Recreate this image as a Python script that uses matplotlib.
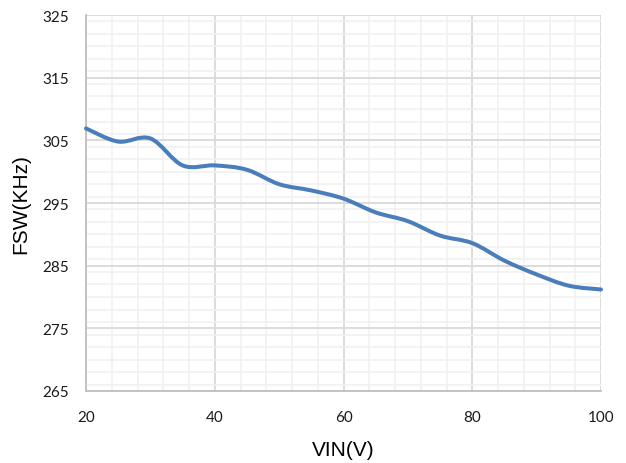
import numpy as np
import matplotlib
matplotlib.use("Agg")
import matplotlib.pyplot as plt
from matplotlib.path import Path
from matplotlib.patches import PathPatch
from matplotlib.ticker import MultipleLocator

# datos
vin = [20, 25, 30, 35, 40, 45, 50, 55, 60, 65, 70, 75, 80, 85, 90, 95, 100]
fsw = [306.9, 304.8, 305.3, 301.0, 301.0, 300.3, 298.0, 297.0, 295.7,
       293.5, 292.1, 289.8, 288.6, 285.8, 283.6, 281.8, 281.2]

x_ticks = [20, 40, 60, 80, 100]
y_ticks = [265, 275, 285, 295, 305, 315, 325]


def curva_suave(xs, ys):
    # linea suavizada estilo Excel (Bezier cubica tipo Catmull-Rom)
    pts = np.column_stack([xs, ys]).astype(float)
    n = len(pts)
    verts = [pts[0]]
    codes = [Path.MOVETO]
    for i in range(n - 1):
        p0 = pts[max(i - 1, 0)]
        p1 = pts[i]
        p2 = pts[i + 1]
        p3 = pts[min(i + 2, n - 1)]
        c1 = p1 + (p2 - p0) / 6.0
        c2 = p2 - (p3 - p1) / 6.0
        verts += [c1, c2, p2]
        codes += [Path.CURVE4] * 3
    return Path(verts, codes)


fig = plt.figure(figsize=(6.26, 4.64), dpi=100)
ax = fig.add_axes([86 / 626, 1 - 392 / 464, 515 / 626, 376 / 464])

ax.set_xlim(20, 100)
ax.set_ylim(265, 325)

ax.xaxis.set_major_locator(MultipleLocator(20))
ax.xaxis.set_minor_locator(MultipleLocator(4))
ax.yaxis.set_major_locator(MultipleLocator(10))
ax.yaxis.set_minor_locator(MultipleLocator(2))
ax.set_xticks(x_ticks)
ax.set_yticks(y_ticks)

ax.grid(which='minor', color='#f0f0f0', linewidth=1.1)
ax.grid(which='major', color='#d9d9d9', linewidth=1.3)
ax.set_axisbelow(True)

for lado in ['top', 'right']:
    ax.spines[lado].set_visible(False)
for lado in ['left', 'bottom']:
    ax.spines[lado].set_color('#bfbfbf')
    ax.spines[lado].set_linewidth(1.3)

ax.tick_params(which='both', length=0)
ax.tick_params(axis='x', pad=14)
ax.tick_params(axis='y', pad=12)
for lbl in ax.get_xticklabels() + ax.get_yticklabels():
    lbl.set_fontfamily('Lato')
    lbl.set_fontsize(11)
    lbl.set_color('#1a1a1a')

patch = PathPatch(curva_suave(vin, fsw), facecolor='none', edgecolor='#4a7ebb',
                  linewidth=2.9, capstyle='round', joinstyle='round', zorder=3)
patch.set_clip_on(False)
ax.add_patch(patch)

ax.set_xlabel('VIN(V)', fontsize=15, fontfamily='Liberation Sans', labelpad=11)
ax.set_ylabel('FSW(KHz)', fontsize=15, fontfamily='Liberation Sans', labelpad=9)

fig.savefig('out.png', dpi=100)
